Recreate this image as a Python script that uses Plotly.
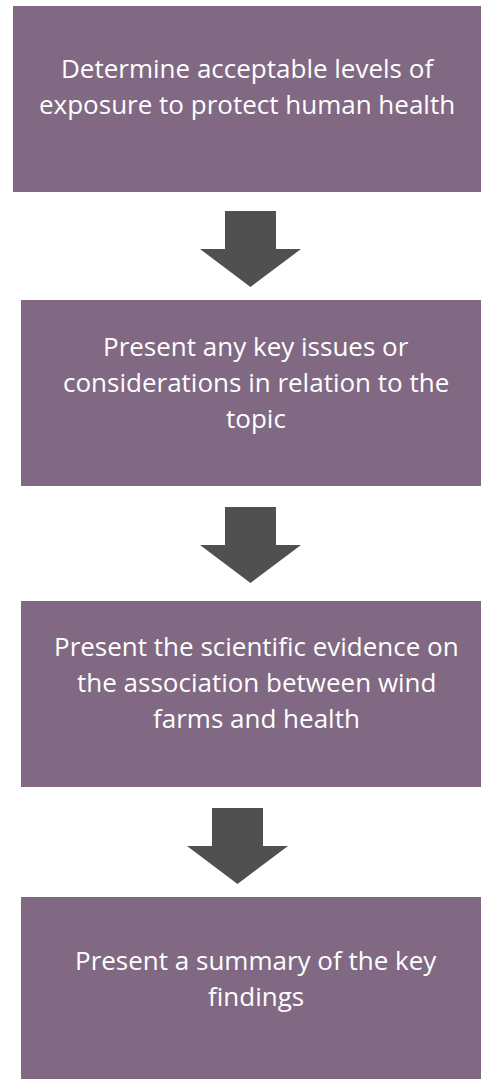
import plotly.graph_objects as go

# ---- data ----
step_lines = [
    ["Determine acceptable levels of", "exposure to protect human health"],
    ["Present any key issues or", "considerations in relation to the", "topic"],
    ["Present the scientific evidence on", "the association between wind", "farms and health"],
    ["Present a summary of the key", "findings"],
]

# ---- layout geometry (pixels, y downwards) ----
W, H = 481, 1079
boxes = [  # x0, x1, y0, y1
    (13, 482, 6, 192),
    (21, 492, 300, 486),
    (21, 492, 601, 787),
    (21, 492, 897, 1079),
]
text_cx = [247, 256, 256, 256]
first_baseline = [76, 354, 654, 968]
line_gap = 36
arrows = [  # center x, shaft top, head top, tip
    (250.5, 211, 249, 287),
    (250.5, 507, 545, 583),
    (237.5, 808, 846, 884),
]
shaft_half, head_half = 25.5, 50.5

BOX_COLOR = "#816883"
ARROW_COLOR = "#505050"
FONT = "Open Sans"
FS = 26

fig = go.Figure()
shapes = []
for (x0, x1, y0, y1) in boxes:
    shapes.append(dict(type="rect", xref="x", yref="y", x0=x0, x1=x1, y0=y0, y1=y1,
                       fillcolor=BOX_COLOR, line=dict(width=0), layer="below"))
for (cx, st, ht, tip) in arrows:
    path = (f"M {cx-shaft_half},{st} L {cx+shaft_half},{st} L {cx+shaft_half},{ht} "
            f"L {cx+head_half},{ht} L {cx},{tip} L {cx-head_half},{ht} "
            f"L {cx-shaft_half},{ht} Z")
    shapes.append(dict(type="path", xref="x", yref="y", path=path,
                       fillcolor=ARROW_COLOR, line=dict(width=0)))

annotations = []
for i, lines in enumerate(step_lines):
    for j, line in enumerate(lines):
        baseline = first_baseline[i] + j * line_gap
        annotations.append(dict(x=text_cx[i], y=baseline - 8, xref="x", yref="y",
                                text=line, showarrow=False, xanchor="center",
                                yanchor="middle",
                                font=dict(family=FONT, size=FS, color="#ffffff")))

fig.update_layout(
    width=W, height=H, margin=dict(l=0, r=0, t=0, b=0),
    paper_bgcolor="white", plot_bgcolor="white",
    xaxis=dict(range=[0, W], visible=False, fixedrange=True),
    yaxis=dict(range=[H, 0], visible=False, fixedrange=True),
    shapes=shapes, annotations=annotations, showlegend=False,
)
fig.write_html(
    "out.html",
    config={"displayModeBar": False},
    post_script="document.body.style.margin='0';document.body.style.overflow='hidden';",
)
